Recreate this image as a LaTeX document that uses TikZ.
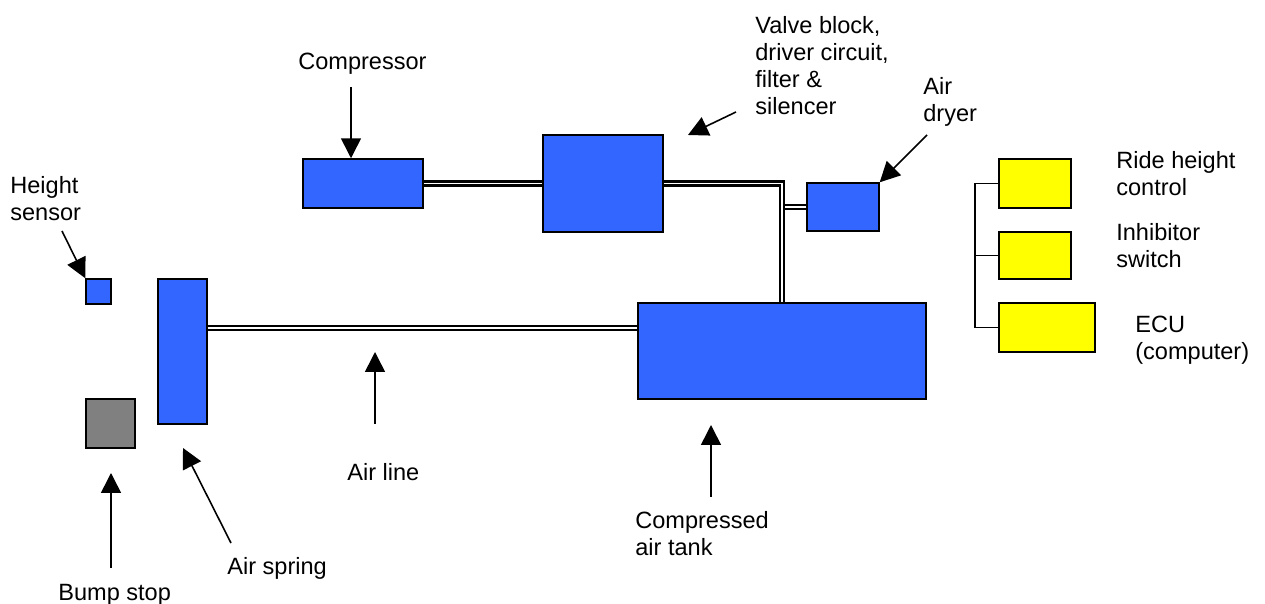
\documentclass[tikz,border=0pt]{standalone}
\usepackage{fontspec}
\setmainfont{Liberation Sans}
\usetikzlibrary{arrows.meta}
\definecolor{partblue}{HTML}{3366FF}
\definecolor{stopgray}{HTML}{808080}
\definecolor{ctrlyellow}{HTML}{FFFF00}

\begin{document}
\begin{tikzpicture}[
  x=0.02cm, y=-0.02cm,
  part/.style={rectangle, draw, line width=0.85pt, fill=partblue, inner sep=0pt},
  ctrl/.style={rectangle, draw, line width=0.85pt, fill=ctrlyellow, inner sep=0pt},
  lbl/.style={anchor=west, align=left, inner sep=0pt, font=\fontsize{13.4pt}{15.4pt}\selectfont},
  pipe/.style={double, double distance=1.1pt, line width=1.3pt},
  arrow/.style={-{Triangle[length=0.4cm, width=0.4cm]}, line width=0.9pt}
]
  \useasboundingbox (0,0) rectangle (1265,604);

  % suspension parts
  \node[part, minimum width=0.5cm, minimum height=0.5cm] (sensor) at (98.5,291.5) {};
  \node[part, fill=stopgray, minimum width=0.98cm, minimum height=0.98cm] (bump) at (110.5,423.5) {};
  \node[part, minimum width=0.98cm, minimum height=2.9cm] (spring) at (182.5,351.5) {};
  \node[part, minimum width=2.4cm, minimum height=0.98cm] (comp) at (363,183.5) {};
  \node[part, minimum width=2.4cm, minimum height=1.94cm] (valve) at (603,183.5) {};
  \node[part, minimum width=1.44cm, minimum height=0.96cm] (dryer) at (843,207) {};
  \node[part, minimum width=5.76cm, minimum height=1.92cm] (tank) at (782,351) {};

  % control parts
  \node[ctrl, minimum width=1.44cm, minimum height=0.98cm] (ride) at (1035,183.5) {};
  \node[ctrl, minimum width=1.44cm, minimum height=0.94cm] (inhib) at (1035,255.5) {};
  \node[ctrl, minimum width=1.92cm, minimum height=0.98cm] (ecu) at (1047,327.5) {};

  % labels
  \node[lbl] (compL) at (298,64) {Compressor};
  \node[lbl] (valveL) at (755,66) {Valve block,\\driver circuit,\\filter \&\\silencer};
  \node[lbl] (dryerL) at (923,101.5) {Air\\dryer};
  \node[lbl] (sensorL) at (10,198.5) {Height\\sensor};
  \node[lbl] (rideL) at (1116,173.5) {Ride height\\control};
  \node[lbl] (inhibL) at (1116,245.5) {Inhibitor\\switch};
  \node[lbl] (ecuL) at (1135,340) {ECU\\(computer)};
  \node[lbl] (lineL) at (347,472) {Air line};
  \node[lbl] (tankL) at (635,533.5) {Compressed\\air tank};
  \node[lbl] (springL) at (227,568) {Air spring};
  \node[lbl] (bumpL) at (58,595) {Bump stop};

  % air pipes
  \draw[pipe] (comp.east) -- (valve.west);
  \draw[pipe] (dryer.west) -- (dryer.west -| tank.north);
  \draw[pipe] (valve.east) -| (tank.north);
  \draw[pipe] ([yshift=0.47cm]spring.east) -- ([yshift=0.47cm]spring.east -| tank.west);

  % wiring
  \coordinate (bus) at (975,183.5);
  \draw[line width=0.8pt] (ride.west) -- (bus) |- (ecu.west);
  \draw[line width=0.8pt] (inhib.west) -- (bus |- inhib.west);

  % pointers
  \coordinate (compA) at (351,87);
  \coordinate (valveA) at (736,112);
  \coordinate (valveT) at (688,135);
  \coordinate (dryerA) at (927,135);
  \coordinate (sensorA) at (62,231);
  \coordinate (bumpA) at (111,568);
  \coordinate (bumpT) at (111,473);
  \coordinate (springA) at (231,543);
  \coordinate (springT) at (183,448);
  \coordinate (lineA) at (375,424);
  \coordinate (lineT) at (375,352);
  \coordinate (tankA) at (711,497);
  \coordinate (tankT) at (711,425);

  \draw[arrow] (compA) -- (compA |- comp.north);
  \draw[arrow] (valveA) -- (valveT);
  \draw[arrow] (dryerA) -- (dryer.north east);
  \draw[arrow] (sensorA) -- (sensor.north west);
  \draw[arrow] (bumpA) -- (bumpT);
  \draw[arrow] (springA) -- (springT);
  \draw[arrow] (lineA) -- (lineT);
  \draw[arrow] (tankA) -- (tankT);
\end{tikzpicture}
\end{document}
